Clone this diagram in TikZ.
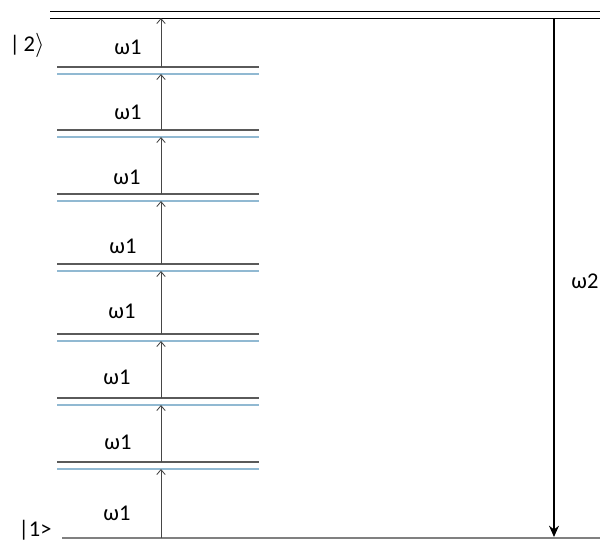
\documentclass[tikz,border=0pt]{standalone}
\usepackage{fontspec}
\setmainfont{Carlito}
\usetikzlibrary{arrows.meta,positioning}
\definecolor{levelgray}{RGB}{90,90,90}
\definecolor{levelblue}{RGB}{145,185,210}
\definecolor{stepgray}{RGB}{70,70,70}

\begin{document}
\begin{tikzpicture}[x=0.025cm,y=-0.025cm,
    photon/.style={draw=stepgray,line width=0.6pt,-{Straight Barb[length=3.5pt,width=6pt]}},
    label/.style={font=\fontsize{16}{18}\selectfont,inner sep=0pt}]
   \useasboundingbox (0,0) rectangle (600,542);
   % upper state |2>
   \draw[black,line width=0.6pt] (50,11)--(600,11);
   \draw[black,line width=0.6pt] (50,18)--(600,18);
   \coordinate (top) at (161,18);
   \coordinate (topr) at (554,18);
   % ground state |1>
   \draw[gray,line width=1pt] (62,538)--(600,538);
   \coordinate (ground) at (161,538);
   \coordinate (groundr) at (554,537);
   % virtual levels
   \foreach \i/\y in {1/67,2/130,3/194,4/264,5/334,6/398,7/462}{
     \draw[levelgray,line width=0.9pt] (57,\y)--(259,\y);
     \draw[levelblue,line width=0.8pt] (57,\y+7)--(259,\y+7);
     \coordinate (d\i) at (161,\y);
     \coordinate (v\i) at (161,\y+7);
   }
   % absorption steps
   \draw[photon] (ground)--(v7);
   \draw[photon] (d7)--(v6);
   \draw[photon] (d6)--(v5);
   \draw[photon] (d5)--(v4);
   \draw[photon] (d4)--(v3);
   \draw[photon] (d3)--(v2);
   \draw[photon] (d2)--(v1);
   \draw[photon] (d1)--(top);
   % emission
   \draw[black,line width=1.6pt,-{Stealth[length=8pt,width=7pt]}] (topr)--(groundr);
   % labels
   \node[label] (w1) at (128,47) {ω1};
   \node[label] (w2) at (128,112) {ω1};
   \node[label] (w3) at (127,177) {ω1};
   \node[label] (w4) at (123,246) {ω1};
   \node[label] (w5) at (122,311) {ω1};
   \node[label] (w6) at (117,377) {ω1};
   \node[label] (w7) at (118,442) {ω1};
   \node[label] (w8) at (117,513) {ω1};
   \node[label] (w9) at (585,281) {ω2};
   \node[label] (s2) at (27,45) {|\,2$\rangle$};
   \node[label] (s1) at (35,530) {|1>};
  \end{tikzpicture}
\end{document}
